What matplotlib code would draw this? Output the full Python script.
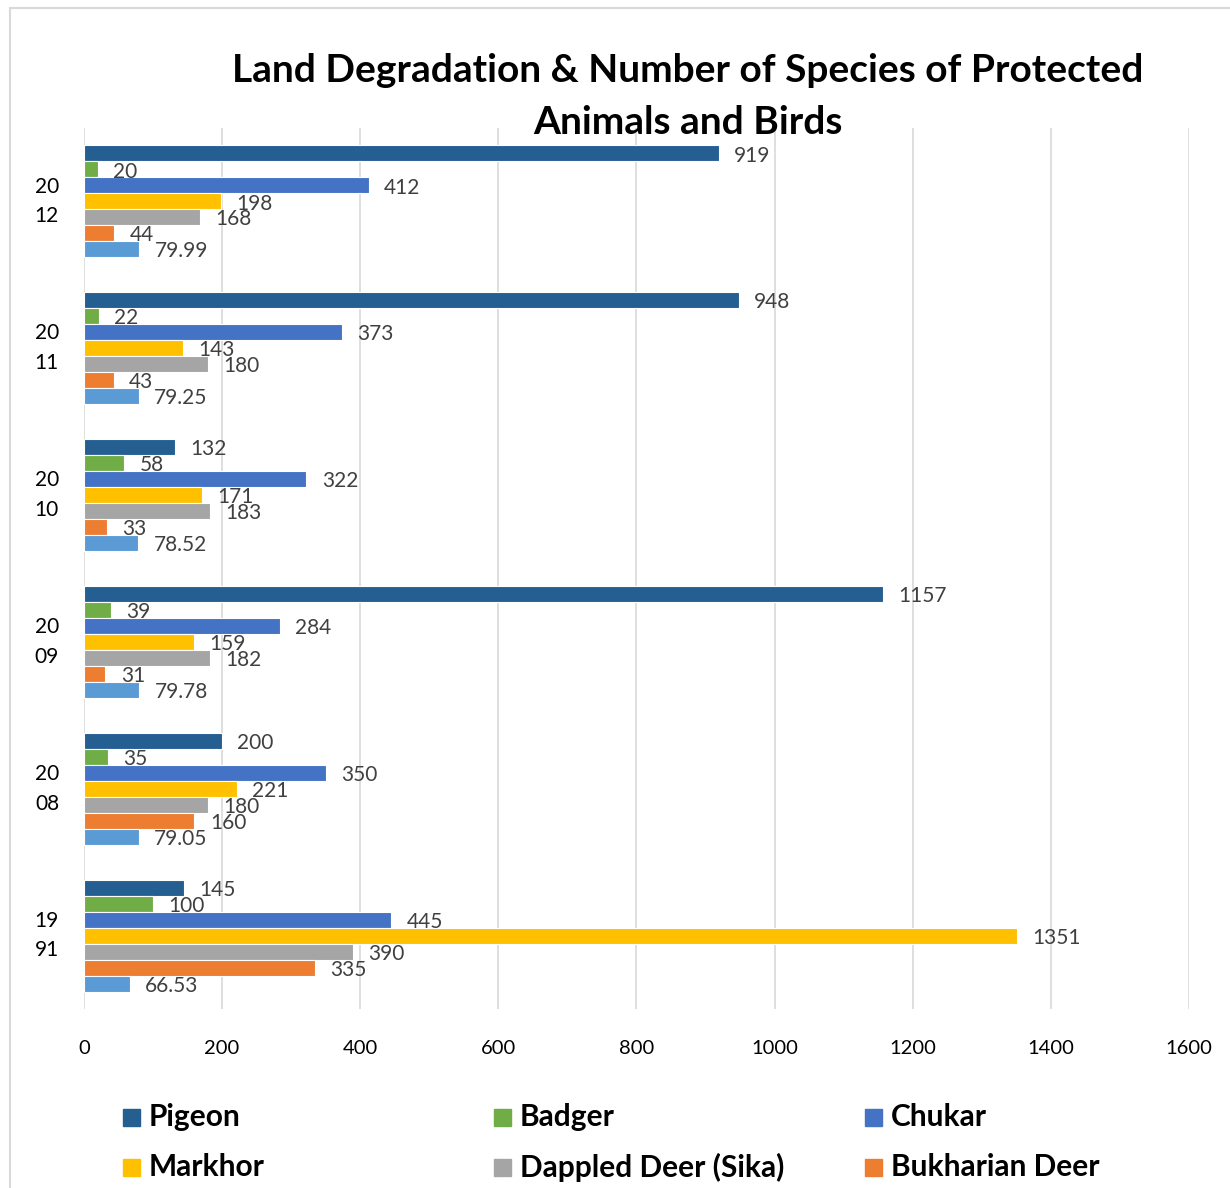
import numpy as np
import matplotlib
matplotlib.use("Agg")
from matplotlib import pyplot as plt
from matplotlib.patches import Rectangle

plt.rcParams['font.family'] = ['Lato', 'DejaVu Sans']

# data, groups listed top to bottom
years = ['20\n12', '20\n11', '20\n10', '20\n09', '20\n08', '19\n91']
series = ['Pigeon', 'Badger', 'Chukar', 'Markhor', 'Dappled Deer (Sika)',
          'Bukharian Deer', 'Land Degradation']
pigeon = [919, 948, 132, 1157, 200, 145]
badger = [20, 22, 58, 39, 35, 100]
chukar = [412, 373, 322, 284, 350, 445]
markhor = [198, 143, 171, 159, 221, 1351]
sika = [168, 180, 183, 182, 180, 390]
bukharian = [44, 43, 33, 31, 160, 335]
land = [79.99, 79.25, 78.52, 79.78, 79.05, 66.53]
labels_land = ['79.99', '79.25', '78.52', '79.78', '79.05', '66.53']

colors = ['#255E91', '#70AD47', '#4472C4', '#FFC000', '#A5A5A5', '#ED7D31', '#5B9BD5']
values = [pigeon, badger, chukar, markhor, sika, bukharian, land]

W, H = 1230, 1188
fig = plt.figure(figsize=(W / 100, H / 100), dpi=100)

# outer chart border (cropped on right/bottom)
fig.add_artist(Rectangle((10 / W, -0.1), 1.2, 1 - 8 / H + 0.1, transform=fig.transFigure,
                         fill=False, edgecolor='#D9D9D9', linewidth=1.5))

ax = fig.add_axes([84 / W, (H - 1009) / H, 1105 / W, 881 / H])

bh = 16 / 147
centers = np.arange(len(years))[::-1].astype(float)  # top group has highest y
for i, (name, vals, c) in enumerate(zip(series, values, colors)):
    y = centers + (3 - i) * bh
    ax.barh(y, vals, height=bh, color=c, edgecolor='white', linewidth=0.8, zorder=3)
    for j, v in enumerate(vals):
        txt = labels_land[j] if i == 6 else f'{v:g}'
        ax.annotate(txt, (v, y[j]), xytext=(11, -1.5), textcoords='offset points',
                    va='center', ha='left', fontsize=15, color='#404040', zorder=4)

ax.set_xlim(0, 1600)
ax.set_ylim(-0.5, len(years) - 0.5)
ax.set_xticks(np.arange(0, 1601, 200))
ax.set_yticks(centers, years)
ax.tick_params(axis='y', length=0, pad=18, labelsize=15, labelcolor='black')
ax.tick_params(axis='x', length=0, pad=22, labelsize=14.5, labelcolor='black')
for lbl in ax.get_yticklabels():
    lbl.set_linespacing(1.6)
    lbl.set_verticalalignment('center')
ax.grid(axis='x', color='#D9D9D9', linewidth=1.2, zorder=0)
for s in ax.spines.values():
    s.set_visible(False)

fig.text(688 / W, 1 - 70 / H, 'Land Degradation & Number of Species of Protected',
         ha='center', va='center', fontsize=28, fontweight='bold')
fig.text(688 / W, 1 - 122 / H, 'Animals and Birds',
         ha='center', va='center', fontsize=28, fontweight='bold')

# legend, laid out row by row like the original (third row is cut off)
col_x = [123, 494, 865]
row_y = [1117, 1167]
for k in range(6):
    px = col_x[k % 3]
    py = row_y[k // 3]
    fig.add_artist(Rectangle((px / W, 1 - (py + 9) / H), 17 / W, 17 / H,
                             transform=fig.transFigure, color=colors[k]))
    fig.text((px + 26) / W, 1 - py / H, series[k], ha='left', va='center',
             fontsize=21.5, fontweight='bold')

fig.savefig('out.png', dpi=100)
